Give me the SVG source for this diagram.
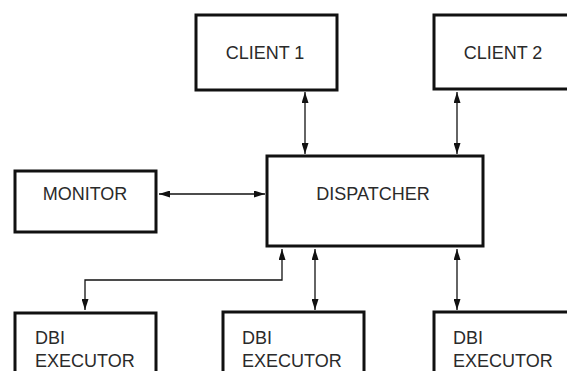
<svg xmlns="http://www.w3.org/2000/svg" width="567" height="371" viewBox="0 0 567 371">
<style>
.box{fill:#fff;stroke:#111;stroke-width:3}
.lbl{font-family:"Liberation Sans",Arial,sans-serif;font-size:18px;fill:#2a2a2a}
.c{text-anchor:middle}
.conn{fill:none;stroke:#111;stroke-width:1.3}
</style>
<defs>
<marker id="ah" viewBox="0 0 11 7" refX="11" refY="3.5" markerWidth="11" markerHeight="7" markerUnits="userSpaceOnUse" orient="auto-start-reverse">
<path d="M0,0 L11,3.5 L0,7 z" fill="#111"/>
</marker>
</defs>
<rect width="567" height="371" fill="#fff"/>
<g id="connectors">
<line class="conn" x1="305" y1="92" x2="305" y2="154" marker-start="url(#ah)" marker-end="url(#ah)"/>
<line class="conn" x1="457" y1="92" x2="457" y2="154" marker-start="url(#ah)" marker-end="url(#ah)"/>
<line class="conn" x1="159" y1="194" x2="265" y2="194" marker-start="url(#ah)" marker-end="url(#ah)"/>
<path class="conn" d="M282,249 V280 H85 V310" marker-start="url(#ah)" marker-end="url(#ah)"/>
<line class="conn" x1="315" y1="249" x2="315" y2="310" marker-start="url(#ah)" marker-end="url(#ah)"/>
<line class="conn" x1="457" y1="249" x2="457" y2="310" marker-start="url(#ah)" marker-end="url(#ah)"/>
</g>
<g id="client1">
<rect class="box" x="196" y="15" width="141" height="75"/>
<text class="lbl c" x="265" y="59">CLIENT 1</text>
</g>
<g id="client2">
<rect class="box" x="434" y="15" width="150" height="74"/>
<text class="lbl c" x="503" y="59">CLIENT 2</text>
</g>
<g id="monitor">
<rect class="box" x="15" y="171" width="141" height="61"/>
<text class="lbl c" x="85" y="200">MONITOR</text>
</g>
<g id="dispatcher">
<rect class="box" x="267" y="156" width="216" height="90"/>
<text class="lbl c" x="373" y="200">DISPATCHER</text>
</g>
<g id="dbi1">
<rect class="box" x="15" y="313" width="141" height="70"/>
<text class="lbl" x="35" y="344">DBI</text>
<text class="lbl" x="35" y="367">EXECUTOR</text>
</g>
<g id="dbi2">
<rect class="box" x="223" y="312" width="141" height="70"/>
<text class="lbl" x="242" y="344">DBI</text>
<text class="lbl" x="242" y="367">EXECUTOR</text>
</g>
<g id="dbi3">
<rect class="box" x="434" y="312" width="150" height="70"/>
<text class="lbl" x="453" y="344">DBI</text>
<text class="lbl" x="453" y="367">EXECUTOR</text>
</g>
</svg>
